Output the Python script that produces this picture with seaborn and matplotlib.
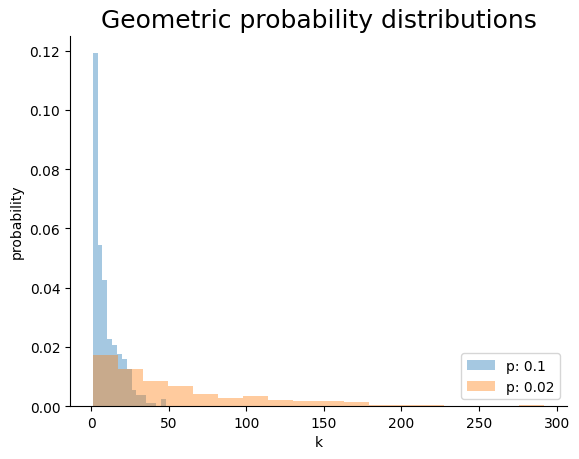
import numpy as np
import pandas as pd
import matplotlib
matplotlib.use("Agg")
import matplotlib.pyplot as plt
import seaborn as sns

# histogram heights (density)
# p = 0.1 : 15 bins over k = 1 .. 48
p01_range = (1, 48)
p01_heights = [0.1191, 0.0545, 0.0425, 0.0225, 0.0205, 0.0175, 0.0160, 0.0126,
               0.0055, 0.0036, 0.0036, 0.0011, 0.0011, 0.0, 0.0025]

# p = 0.02 : 18 bins over k = 1 .. 292
p002_range = (1, 292)
p002_heights = [0.0174, 0.0126, 0.0086, 0.0069, 0.0042, 0.0028, 0.0035, 0.0021,
                0.0018, 0.0018, 0.0014, 0.00045, 0.00045, 0.00045, 0.0, 0.0,
                0.0, 0.00045]

labels = ["p: 0.1", "p: 0.02"]


def to_frame(rng, heights):
    edges = np.linspace(rng[0], rng[1], len(heights) + 1)
    centers = (edges[:-1] + edges[1:]) / 2
    return pd.DataFrame({"k": centers, "h": heights}), list(edges)


fig, ax = plt.subplots(figsize=(5.79, 4.6), dpi=100)
fig.subplots_adjust(left=0.121, right=0.979, top=0.92, bottom=0.115)

for (rng, heights), lab, col in zip([(p01_range, p01_heights), (p002_range, p002_heights)],
                                   labels, ["C0", "C1"]):
    df, edges = to_frame(rng, heights)
    sns.histplot(data=df, x="k", weights="h", bins=edges, stat="count",
                 color=col, alpha=0.4, linewidth=0, label=lab, ax=ax)

sns.despine(ax=ax)
ax.set_title("Geometric probability distributions", fontsize=18)
ax.set_xlabel("k")
ax.set_ylabel("probability")
ax.legend(loc="lower right")

fig.savefig("out.png", dpi=100)
